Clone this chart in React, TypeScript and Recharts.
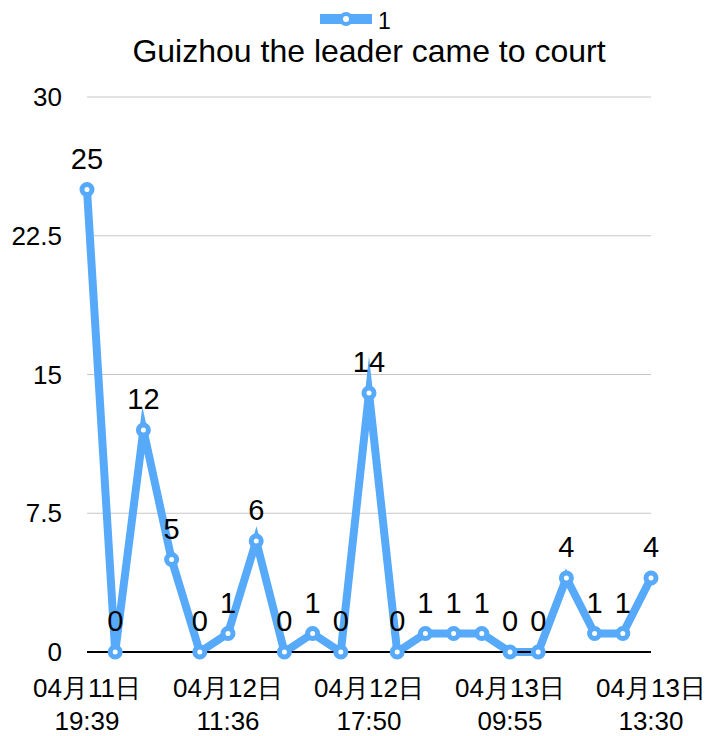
import React from "react"
import {
  LineChart,
  Line,
  XAxis,
  YAxis,
  CartesianGrid,
  Legend,
  LabelList,
} from "recharts"

const LINE_COLOR = "#57a9fa"
const FONT = "'Liberation Sans', Arial, sans-serif"

// time stamps of each point (only every fifth one is shown on the axis)
const times = [
  "04月11日\n19:39", "", "", "", "",
  "04月12日\n11:36", "", "", "", "",
  "04月12日\n17:50", "", "", "", "",
  "04月13日\n09:55", "", "", "", "",
  "04月13日\n13:30",
]

const counts = [25, 0, 12, 5, 0, 1, 6, 0, 1, 0, 14, 0, 1, 1, 1, 0, 0, 4, 1, 1, 4]

const yTicks = [0, 7.5, 15, 22.5, 30]

const seriesName = "1"
const title = "Guizhou the leader came to court"

const data = counts.map((v, i) => ({ label: times[i] || `t${i}`, value: v }))

const XTick = ({ x, y, payload }: any) => {
  const text: string = payload.value
  if (!text.includes("\n")) return null
  const [day, time] = text.split("\n")
  return (
    <text x={x} y={y} textAnchor="middle" fontSize={26} fill="#000" fontFamily={FONT}>
      <tspan x={x} dy={45}>{day}</tspan>
      <tspan x={x} dy={33}>{time}</tspan>
    </text>
  )
}

const renderLegend = () => (
  <svg width={706} height={34} style={{ display: "block" }}>
    <rect x={320} y={14} width={52} height={10} fill={LINE_COLOR} />
    <circle cx={346} cy={19} r={5} fill="#fff" stroke={LINE_COLOR} strokeWidth={4} />
    <text x={378} y={29} fontSize={23} fill="#000" fontFamily={FONT}>
      {seriesName}
    </text>
  </svg>
)

export default function App() {
  return (
    <div style={{ position: "absolute", left: 0, top: 0, width: 706, height: 736, background: "#fff" }}>
      <div
        style={{
          position: "absolute",
          top: 35,
          left: 0,
          width: 738,
          textAlign: "center",
          fontFamily: FONT,
          fontSize: 32,
          lineHeight: "32px",
          color: "#000",
          zIndex: 2,
        }}
      >
        {title}
      </div>
      <LineChart
        width={706}
        height={736}
        data={data}
        margin={{ top: 63, right: 55, bottom: 0, left: 27 }}
      >
        <CartesianGrid horizontal vertical={false} stroke="#c6c6c6" strokeWidth={1} />
        <XAxis
          dataKey="label"
          interval={0}
          height={84}
          tickLine={false}
          tickSize={0}
          tickMargin={0}
          axisLine={{ stroke: "#000", strokeWidth: 2 }}
          tick={<XTick />}
        />
        <YAxis
          domain={[0, 30]}
          ticks={yTicks}
          width={60}
          axisLine={false}
          tickLine={false}
          tickSize={0}
          tickMargin={25}
          tick={{ fontSize: 26, fill: "#000", fontFamily: FONT }}
        />
        <Legend
          verticalAlign="top"
          content={renderLegend}
          wrapperStyle={{ top: 0, left: 0, width: 706 }}
        />
        <Line
          type="linear"
          dataKey="value"
          name={seriesName}
          stroke={LINE_COLOR}
          strokeWidth={8}
          strokeLinejoin="miter"
          strokeMiterlimit={10}
          dot={{ r: 5, fill: "#fff", stroke: LINE_COLOR, strokeWidth: 5 }}
          isAnimationActive={false}
        >
          <LabelList
            dataKey="value"
            position="top"
            offset={21}
            fontSize={29}
            fill="#000"
            fontFamily={FONT}
          />
        </Line>
      </LineChart>
    </div>
  )
}
